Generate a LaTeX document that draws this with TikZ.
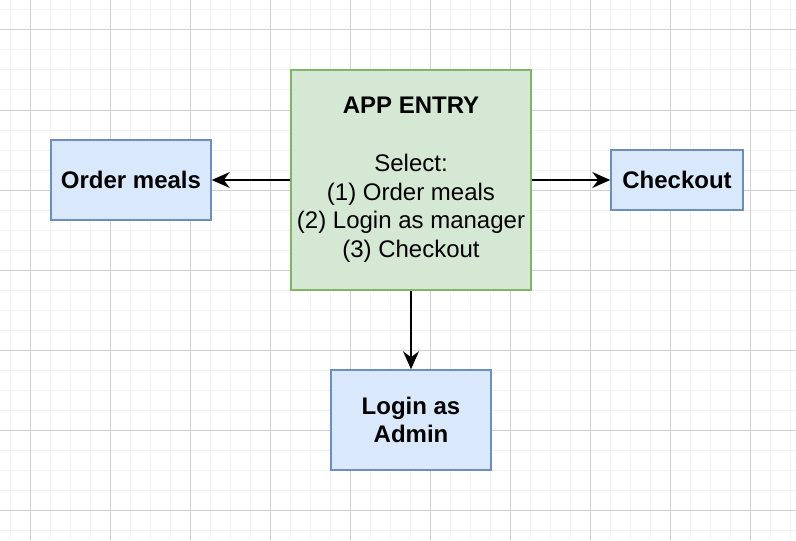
\documentclass[tikz,border=0pt]{standalone}
\usepackage{fontspec}
\setmainfont{Liberation Sans}
\usepackage{xcolor}
\usepackage{tikz}
\usetikzlibrary{arrows.meta,positioning}
\definecolor{entryGreen}{RGB}{213,232,212}
\definecolor{entryGreenLine}{RGB}{130,179,102}
\definecolor{optBlue}{RGB}{218,232,252}
\definecolor{optBlueLine}{RGB}{108,142,191}
\definecolor{gridMinor}{RGB}{242,242,242}
\definecolor{gridMajor}{RGB}{208,208,208}

\begin{document}
\begin{tikzpicture}[x=0.5pt, y=-0.5pt,
    box/.style={draw, line width=0.75pt, inner sep=0pt, align=center,
        font=\fontsize{12}{14.4}\selectfont},
    entrybox/.style={box, fill=entryGreen, draw=entryGreenLine},
    optbox/.style={box, fill=optBlue, draw=optBlueLine, font=\fontsize{12}{14.4}\selectfont\bfseries},
    flow/.style={line width=0.8pt, -{Stealth[length=9pt, width=8pt, inset=3pt]}}]
\useasboundingbox (0,0) rectangle (796,540);

% background grid
\foreach \x in {10,30,...,790}
{
    \draw[gridMinor, line width=0.5pt] (\x,0) -- (\x,540);
}
\foreach \y in {10,30,...,530}
{
    \draw[gridMinor, line width=0.5pt] (0,\y) -- (796,\y);
}
\foreach \x in {30,110,...,750}
{
    \draw[gridMajor, line width=0.5pt] (\x,0) -- (\x,540);
}
\foreach \y in {30,110,...,510}
{
    \draw[gridMajor, line width=0.5pt] (0,\y) -- (796,\y);
}

\node[entrybox, minimum width=120pt, minimum height=110pt] (entry) at (411,180)
    {\textbf{APP ENTRY}\\ \mbox{}\\ Select:\\ (1) Order meals\\ (2) Login as manager\\ (3) Checkout};
\node[optbox, minimum width=80pt, minimum height=40pt] (order) at (131,180) {Order meals};
\node[optbox, minimum width=66pt, minimum height=30pt] (checkout) at (677,180) {Checkout};
\node[optbox, minimum width=80pt, minimum height=50pt] (admin) at (411,420) {Login as\\ Admin};

\draw[flow] (entry.west) -- (order.east);
\draw[flow] (entry.east) -- (checkout.west);
\draw[flow] (entry.south) -- (admin.north);
\end{tikzpicture}
\end{document}
